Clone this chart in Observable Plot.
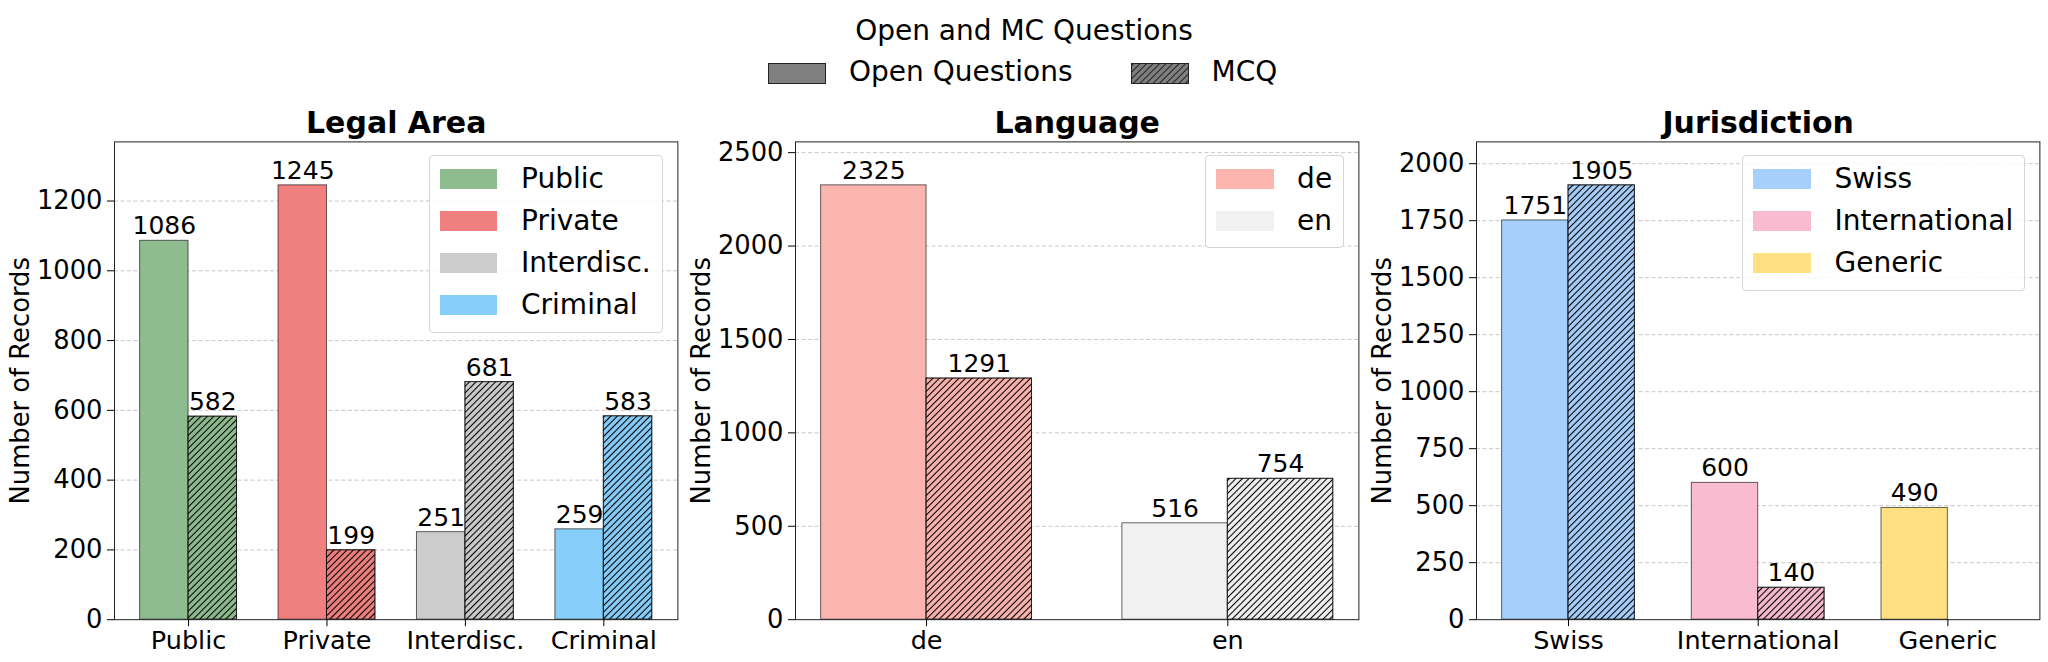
<!DOCTYPE html>
<html>
<head>
<meta charset="utf-8">
<script src="https://cdn.jsdelivr.net/npm/d3@7"></script>
<script src="https://cdn.jsdelivr.net/npm/@observablehq/plot@0.6"></script>
<style>
  html, body { margin: 0; padding: 0; background: #fff; }
  #root { position: relative; width: 2048px; height: 662px; background: #fff; font-family: "DejaVu Sans", sans-serif; color: #000; overflow: hidden; }
  .abs { position: absolute; }
  .suptitle { font-size: 28px; line-height: 28px; white-space: nowrap; }
  .toplegend { display: flex; align-items: center; height: 28px; font-size: 28px; line-height: 28px; white-space: nowrap; }
  .toplegend .item { display: flex; align-items: center; }
  .toplegend svg { display: block; }
  .plegend { border: 1px solid #d6d6d6; border-radius: 4px; background: rgba(255,255,255,0.85); padding: 1.6px 11px 5.5px 10px; font-size: 28px; line-height: 28px; white-space: nowrap; }
  .plegend .row { display: flex; align-items: center; height: 42.2px; }
  .plegend .sw { width: 57.6px; height: 20px; margin-right: 23.6px; }
</style>
</head>
<body>
<div id="root"></div>
<script>
// ---------------- data ----------------
const seriesNames = ["Open Questions", "MCQ"];
const figureTitle = "Open and MC Questions";
const yLabel = "Number of Records";

const legalTitle = "Legal Area";
const legalAreas = ["Public", "Private", "Interdisc.", "Criminal"];
const legalOpen = [1086, 1245, 251, 259];
const legalMcq = [582, 199, 681, 583];
const legalColors = ["#8fbc8f", "#f08080", "#cccccc", "#87cefa"];
const legalTicks = [0, 200, 400, 600, 800, 1000, 1200];

const langTitle = "Language";
const languages = ["de", "en"];
const langOpen = [2325, 516];
const langMcq = [1291, 754];
const langColors = ["#fbb4ae", "#f2f2f2"];
const langTicks = [0, 500, 1000, 1500, 2000, 2500];

const jurTitle = "Jurisdiction";
const jurisdictions = ["Swiss", "International", "Generic"];
const jurOpen = [1751, 600, 490];
const jurMcq = [1905, 140, null];
const jurColors = ["#a6cffb", "#f8bbd0", "#ffe082"];
const jurTicks = [0, 250, 500, 750, 1000, 1250, 1500, 1750, 2000];

// ---------------- layout ----------------
const root = document.getElementById("root");
const FONT = "DejaVu Sans";
const AX_W = 563.4;            // axes width
const ML = 114, MR = 8;        // plot margins
const SVG_TOP = 100;

function addHatch(svg, id, size, color) {
  const defs = d3.select(svg).insert("defs", ":first-child");
  const p = defs.append("pattern")
    .attr("id", id)
    .attr("patternUnits", "userSpaceOnUse")
    .attr("width", size).attr("height", size)
    .attr("patternTransform", "rotate(45)");
  p.append("line")
    .attr("x1", size / 2).attr("y1", 0)
    .attr("x2", size / 2).attr("y2", size)
    .attr("stroke", color).attr("stroke-width", 1.1);
}

function panel({id, title, cats, open, mcq, colors, ticks, axesLeft}) {
  const W = 0.35;
  const rows = [];
  cats.forEach((c, i) => {
    rows.push({i, cat: c, kind: "open", v: open[i], color: colors[i]});
    if (mcq[i] != null) rows.push({i, cat: c, kind: "mcq", v: mcq[i], color: colors[i]});
  });
  const n = cats.length;
  const span = (n - 1) + 2 * W;
  const lo = -W - 0.05 * span, hi = (n - 1) + W + 0.05 * span;
  const ymax = d3.max(rows, d => d.v) * 1.1;
  const hatchId = "hatch-" + id;
  const x1 = d => d.kind === "open" ? d.i - W : d.i;
  const x2 = d => d.kind === "open" ? d.i : d.i + W;
  const xc = d => d.kind === "open" ? d.i - W / 2 : d.i + W / 2;

  const svg = Plot.plot({
    width: ML + AX_W + MR,
    height: 562,
    marginLeft: ML, marginRight: MR, marginTop: 41.4, marginBottom: 42.8,
    style: {fontFamily: FONT, fontSize: "25.5px", color: "#000", background: "transparent", overflow: "visible"},
    x: {domain: [lo, hi]},
    y: {domain: [0, ymax]},
    marks: [
      Plot.gridY(ticks.filter(t => t > 0), {stroke: "#c8c8c8", strokeOpacity: 1, strokeWidth: 1, strokeDasharray: "4,2.5"}),
      Plot.rect(rows, {x1, x2, y1: 0, y2: "v", fill: d => d.color, stroke: "#000", strokeOpacity: 0.6, strokeWidth: 1}),
      Plot.rect(rows.filter(d => d.kind === "mcq"), {x1, x2, y1: 0, y2: "v", fill: `url(#${hatchId})`, stroke: "#000", strokeOpacity: 0.6, strokeWidth: 1}),
      Plot.text(rows, {x: xc, y: "v", text: d => String(d.v), lineAnchor: "bottom", dy: -6.5, fontSize: 25, fill: "#000"}),
      Plot.frame({stroke: "#222", strokeWidth: 1}),
      Plot.axisX(d3.range(n), {tickFormat: i => cats[i], tickSize: 7, tickPadding: 4.6, fontSize: 25.5, label: null, stroke: "#000"}),
      Plot.axisY(ticks, {tickFormat: d => String(d), tickSize: 7, tickPadding: 5, fontSize: 25.8, label: yLabel, labelAnchor: "center", labelArrow: "none", labelOffset: 104, stroke: "#000"}),
      Plot.text([title], {text: d => d, frameAnchor: "top", lineAnchor: "bottom", dy: -8.4, fontSize: 30, fontWeight: "bold", fill: "#000"})
    ]
  });
  addHatch(svg, hatchId, 4.6, "#000");
  svg.style.position = "absolute";
  svg.style.left = (axesLeft - ML) + "px";
  svg.style.top = SVG_TOP + "px";
  root.appendChild(svg);

  // per-panel legend (top-right inside axes)
  const axesRight = axesLeft + AX_W;
  const lg = document.createElement("div");
  lg.className = "abs plegend";
  lg.style.right = (2048 - (axesRight - 14.5)) + "px";
  lg.style.top = "155px";
  cats.forEach((c, i) => {
    const r = document.createElement("div");
    r.className = "row";
    const sw = document.createElement("div");
    sw.className = "sw";
    sw.style.background = colors[i];
    const t = document.createElement("span");
    t.textContent = c;
    r.appendChild(sw); r.appendChild(t);
    lg.appendChild(r);
  });
  root.appendChild(lg);
}

panel({id: "legal", title: legalTitle, cats: legalAreas, open: legalOpen, mcq: legalMcq, colors: legalColors, ticks: legalTicks, axesLeft: 113.8});
panel({id: "lang", title: langTitle, cats: languages, open: langOpen, mcq: langMcq, colors: langColors, ticks: langTicks, axesLeft: 795.2});
panel({id: "jur", title: jurTitle, cats: jurisdictions, open: jurOpen, mcq: jurMcq, colors: jurColors, ticks: jurTicks, axesLeft: 1476.3});

// ---------------- figure legend (top) ----------------
const st = document.createElement("div");
st.className = "abs suptitle";
st.textContent = figureTitle;
st.style.left = "0px"; st.style.width = "2048px"; st.style.textAlign = "center";
st.style.top = "16.5px";
root.appendChild(st);

const tl = document.createElement("div");
tl.className = "abs toplegend";
tl.style.left = "768px";
tl.style.top = "59.5px";
seriesNames.forEach((name, k) => {
  const item = document.createElement("div");
  item.className = "item";
  if (k > 0) item.style.marginLeft = "58px";
  const ns = "http://www.w3.org/2000/svg";
  const s = document.createElementNS(ns, "svg");
  s.setAttribute("width", 58); s.setAttribute("height", 21);
  s.style.marginRight = "23px";
  const pid = "hatch-legend-" + k;
  const defs = document.createElementNS(ns, "defs");
  s.appendChild(defs);
  const rect = document.createElementNS(ns, "rect");
  rect.setAttribute("x", 0.5); rect.setAttribute("y", 0.5);
  rect.setAttribute("width", 57); rect.setAttribute("height", 20);
  rect.setAttribute("fill", "#808080"); rect.setAttribute("stroke", "#222"); rect.setAttribute("stroke-width", 1);
  s.appendChild(rect);
  if (k === 1) {
    addHatch(s, pid, 4.6, "#222");
    const r2 = rect.cloneNode();
    r2.setAttribute("fill", `url(#${pid})`);
    s.appendChild(r2);
  }
  const t = document.createElement("span");
  t.textContent = name;
  t.style.position = "relative"; t.style.top = "-1.5px";
  item.appendChild(s); item.appendChild(t);
  tl.appendChild(item);
});
root.appendChild(tl);
</script>
</body>
</html>
